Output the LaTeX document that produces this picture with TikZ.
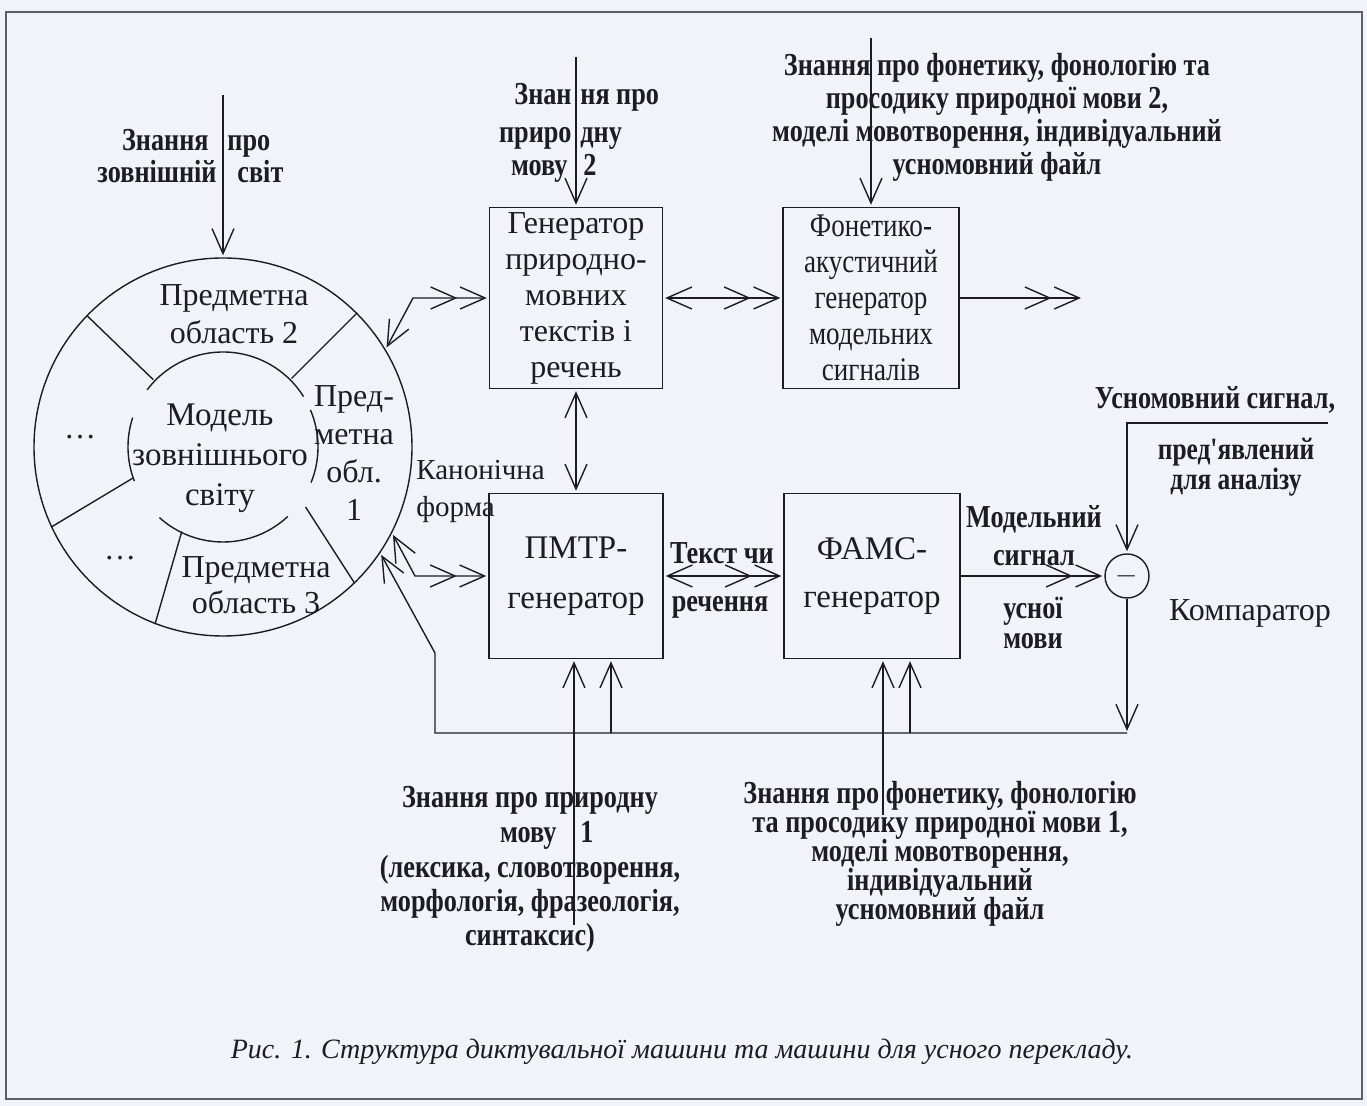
\documentclass[tikz,border=0pt]{standalone}
\usepackage{fontspec}
\usepackage{tikz}
\usetikzlibrary{arrows.meta, positioning, calc}
\setmainfont{Liberation Serif}
\newfontfamily\lblfont{Liberation Serif}[FakeStretch=0.82]
\setlength{\lineskiplimit}{-20pt}
\definecolor{ink}{RGB}{28,28,34}
\definecolor{paper}{RGB}{241,243,249}
\definecolor{edge}{RGB}{95,95,105}
\tikzset{
  unit/.style={rectangle, draw=ink, line width=0.7pt, align=center,
    minimum width=87pt, minimum height=90.5pt, inner sep=0pt, text=ink,
    font=\fontsize{16}{18}\selectfont},
  lbl/.style={align=center, inner sep=0pt, text=ink,
    font=\lblfont\bfseries\fontsize{16}{16}\selectfont},
  txt/.style={align=center, inner sep=0pt, text=ink,
    font=\fontsize{16}{19}\selectfont},
  line/.style={line width=0.7pt, color=ink},
  >={Straight Barb[length=12.5pt, width=11pt, sep=1pt]}
}

\begin{document}
\begin{tikzpicture}[x=0.5pt, y=-0.5pt]
  \fill[paper] (0,0) rectangle (1367,1106);
  \useasboundingbox (0,0) rectangle (1367,1106);
  \draw[edge, line width=0.6pt] (6,12) rectangle (1362,1099);

  % model of the outer world
  \node[circle, draw=ink, line width=0.7pt, minimum size=189pt, inner sep=0pt] (world) at (223,447) {};
  \coordinate (wc) at (223,447);
  \draw[line] (wc) ++(32:47.5pt) arc[start angle=32, end angle=143, radius=47.5pt];
  \draw[line] (wc) ++(-22:47.5pt) arc[start angle=-22, end angle=23, radius=47.5pt];
  \draw[line] (wc) ++(228:47.5pt) arc[start angle=228, end angle=313, radius=47.5pt];
  \draw[line] (wc) ++(162:47.5pt) arc[start angle=162, end angle=201, radius=47.5pt];
  \draw[line] ($(wc)+(136:48.5pt)$) -- (world.136);
  \draw[line] ($(wc)+(45:48.5pt)$) -- (world.45);
  \draw[line] ($(wc)+(199:47.5pt)$) -- (world.205);
  \draw[line] ($(wc)+(244:47pt)$) -- (world.249);
  \draw[line] ($(wc)+(324:51pt)$) -- (world.314);

  \node[txt] (dom2) at (234,314) {Предметна\\область 2};
  \node[txt, font=\fontsize{16.5}{20}\selectfont] (model) at (220,458) {Модель\\зовнішнього\\світу};
  \node[txt] (dom1) at (354,453) {Пред-\\метна\\обл.\\1};
  \node[txt] (more1) at (80,437) {…};
  \node[txt] (more2) at (120,558) {…};
  \node[txt, font=\fontsize{16}{18}\selectfont] (dom3) at (256,585) {Предметна\\область 3};

  % generators
  \node[unit, minimum width=86.5pt] (gen) at (576,298) {Генератор\\природно-\\мовних\\текстів і\\речень};
  \node[unit, minimum width=88pt, font=\lblfont\fontsize{16.5}{18}\selectfont] (phon) at (871,298) {Фонетико-\\акустичний\\генератор\\модельних\\сигналів};
  \node[unit, minimum height=82.5pt, font=\fontsize{16.5}{25}\selectfont] (pmtr) at (576,576) {ПМТР-\\генератор};
  \node[unit, minimum width=88pt, minimum height=82.5pt, font=\fontsize{16.5}{24}\selectfont] (fams) at (872,576) {ФАМС-\\генератор};
  \node[circle, draw=ink, line width=0.7pt, minimum size=22pt, inner sep=0pt, text=ink,
    font=\fontsize{14}{14}\selectfont] (cmp) at (1127,576) {$-$};

  % knowledge inputs
  \node[lbl, anchor=base east] (wk1) at (209,151) {Знання};
  \node[lbl, anchor=base west] (wk2) at (227,151) {про};
  \node[lbl, anchor=base east] (wk3) at (217,183) {зовнішній};
  \node[lbl, anchor=base west] (wk4) at (237,183) {світ};
  \coordinate (wkin) at (223,95);
  \draw[line, ->] (wkin) -- (world.north);

  \node[lbl, anchor=base east] (lt1) at (572,105) {Знан};
  \node[lbl, anchor=base west] (lt2) at (580,105) {ня про};
  \node[lbl, anchor=base east] (lt3) at (572,143) {приро};
  \node[lbl, anchor=base west] (lt4) at (580,143) {дну};
  \node[lbl, anchor=base east] (lt5) at (568,176) {мову};
  \node[lbl, anchor=base west] (lt6) at (583,176) {2};
  \coordinate (ltin) at (576,57);
  \draw[line, ->] (ltin) -- (gen.north);

  \node[lbl, font=\lblfont\bfseries\fontsize{16}{16.5}\selectfont] (pk2) at (997,117)
    {Знання про фонетику, фонологію та\\просодику природної мови 2,\\моделі мовотворення, індивідуальний\\усномовний файл};
  \coordinate (pkin2) at (871,38);
  \draw[line, ->] (pkin2) -- (phon.north);

  \node[lbl] (lk1) at (530,800) {Знання про природну};
  \node[lbl, anchor=base east] (lk2) at (557,843) {мову};
  \node[lbl, anchor=base west] (lk3) at (580,843) {1};
  \node[lbl, font=\lblfont\bfseries\fontsize{16}{17}\selectfont] (lk4) at (530,904)
    {(лексика, словотворення,\\морфологія, фразеологія,\\синтаксис)};
  \coordinate (lkin) at (574,925);
  \draw[line, ->] (lkin) -- (lkin |- pmtr.south);

  \node[lbl, font=\lblfont\bfseries\fontsize{16}{14.5}\selectfont] (pk1) at (940,854)
    {Знання про фонетику, фонологію\\та просодику природної мови 1,\\моделі мовотворення,\\індивідуальний\\усномовний файл};
  \coordinate (pkin1) at (883,815);
  \draw[line, ->] (pkin1) -- (pkin1 |- fams.south);

  % signals and forms
  \node[lbl] (tx1) at (722,553) {Текст чи};
  \node[lbl] (tx2) at (720,607) {речення};
  \node[lbl, font=\lblfont\bfseries\fontsize{16}{19}\selectfont] (ms1) at (1034,536) {Модельний\\сигнал};
  \node[lbl, font=\lblfont\bfseries\fontsize{16}{15}\selectfont] (ms2) at (1033,623) {усної\\мови};
  \node[txt, anchor=west, align=left, font=\fontsize{14.5}{18.5}\selectfont] (canon) at (416,491) {Канонічна\\форма};
  \node[lbl] (sg1) at (1215,400) {Усномовний сигнал,};
  \node[lbl, font=\lblfont\bfseries\fontsize{15.5}{15}\selectfont] (sg2) at (1236,467) {пред'явлений\\для аналізу};
  \node[txt] (cmplbl) at (1250,613) {Компаратор};

  \draw[line, <->>] (world.31) -- (413,298) -- (gen.west);
  \draw[line, <->>] (gen.east) -- (phon.west);
  \coordinate (phout) at (1083,298);
  \draw[line, ->>] (phon.east) -- (phout);
  \draw[line, <->] (gen.south) -- (pmtr.north);
  \draw[line, <->>] (world.333) -- (415,576) -- (pmtr.west);
  \draw[line, <->>] (pmtr.east) -- (fams.west);
  \draw[line, ->>] (fams.east) -- (cmp.west);
  \coordinate (sigin) at (1328,423);
  \draw[line, ->] (sigin) -- (sigin -| cmp.north) -- (cmp.north);
  \coordinate (fbl) at (435,733);
  \draw[line, ->] (cmp.south) -- (cmp.south |- fbl);
  \draw[line, ->] (cmp.south |- fbl) -- (fbl) -- (435,653) -- (world.326);
  \coordinate (fbp) at (611,733);
  \coordinate (fbf) at (910,733);
  \draw[line, ->] (fbp) -- (fbp |- pmtr.south);
  \draw[line, ->] (fbf) -- (fbf |- fams.south);

  \node[text=ink, font=\itshape\fontsize{14}{18}\selectfont] (caption) at (682,1052)
    {Рис. 1. Структура диктувальної машини та машини для усного перекладу.};
\end{tikzpicture}
\end{document}
